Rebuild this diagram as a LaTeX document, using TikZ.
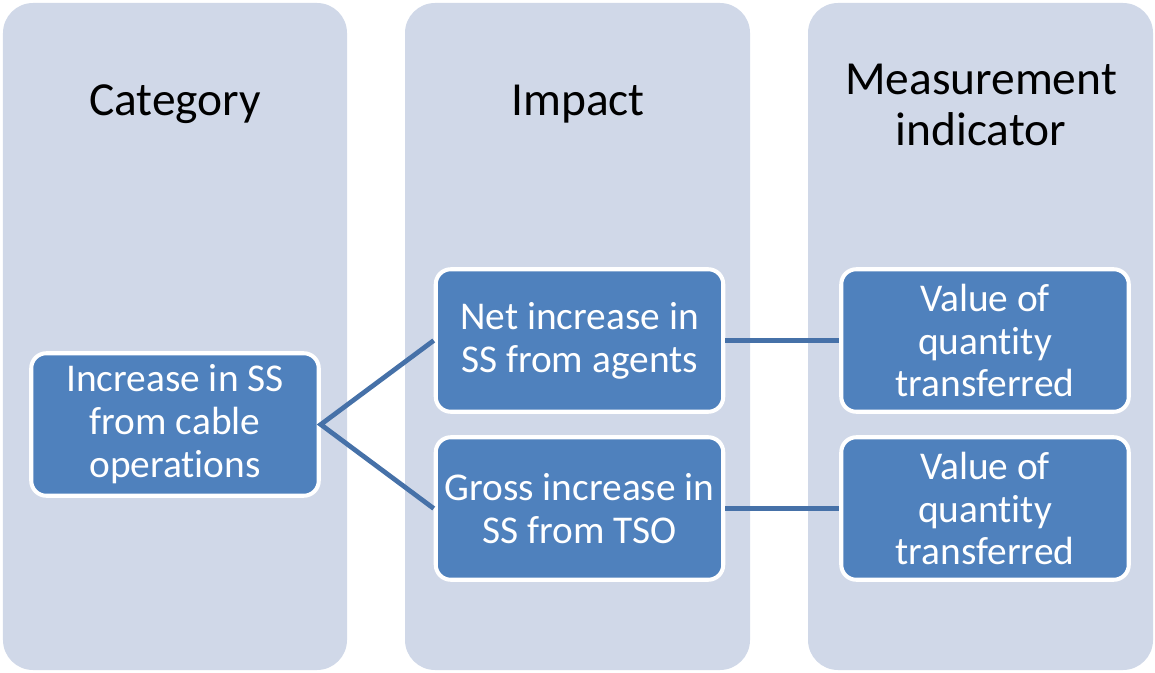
\documentclass[tikz,border=0pt]{standalone}
\usepackage{fontspec}
\setmainfont[RawFeature={-liga;-clig;-dlig;-calt}]{Carlito}
\definecolor{colfill}{HTML}{D0D8E8}
\definecolor{boxfill}{HTML}{4F81BD}
\definecolor{linkcol}{HTML}{4671A8}
\begin{document}
\begin{tikzpicture}[
        column/.style = {fill = colfill, rounded corners = 0.6cm},
        heading/.style = {align = center, font = \fontsize{27}{29}\selectfont},
        box/.style = {draw = white, line width = 2.3pt, fill = boxfill, rounded corners = 0.3cm,
            minimum width = 5.75cm, minimum height = 2.85cm, align = center, text = white,
            inner sep = 0pt, font = \fontsize{22.4}{24.4}\selectfont},
        link/.style = {draw = linkcol, line width = 2.7pt}
    ]
        \useasboundingbox (0, 0) rectangle (23.1, -13.46);
        % three columns
        \fill [column] (0.06, -0.06) rectangle (6.94, -13.40);
        \fill [column] (8.10, -0.06) rectangle (15.00, -13.40);
        \fill [column] (16.16, -0.06) rectangle (23.06, -13.40);
        \node [heading] (hcat) at (3.50, -2.08) {Category};
        \node [heading] (himp) at (11.56, -2.08) {Impact};
        \node [heading] (hind) at (19.62, -2.10) {Measurement\\indicator};
        % boxes
        \node [box] (cable) at (3.50, -8.49) {Increase in SS\\from cable\\operations};
        \node [box] (net) at (11.59, -6.81) {Net increase in\\SS from agents};
        \node [box] (gross) at (11.59, -10.17) {Gross increase in\\SS from TSO};
        \node [box] (valnet) at (19.70, -6.81) {Value of\\quantity\\transferred};
        \node [box] (valgross) at (19.70, -10.17) {Value of\\quantity\\transferred};
        % links
        \draw [link] (net.west) -- (cable.east) -- (gross.west);
        \draw [link] (net) -- (valnet);
        \draw [link] (gross) -- (valgross);
    \end{tikzpicture}
\end{document}
